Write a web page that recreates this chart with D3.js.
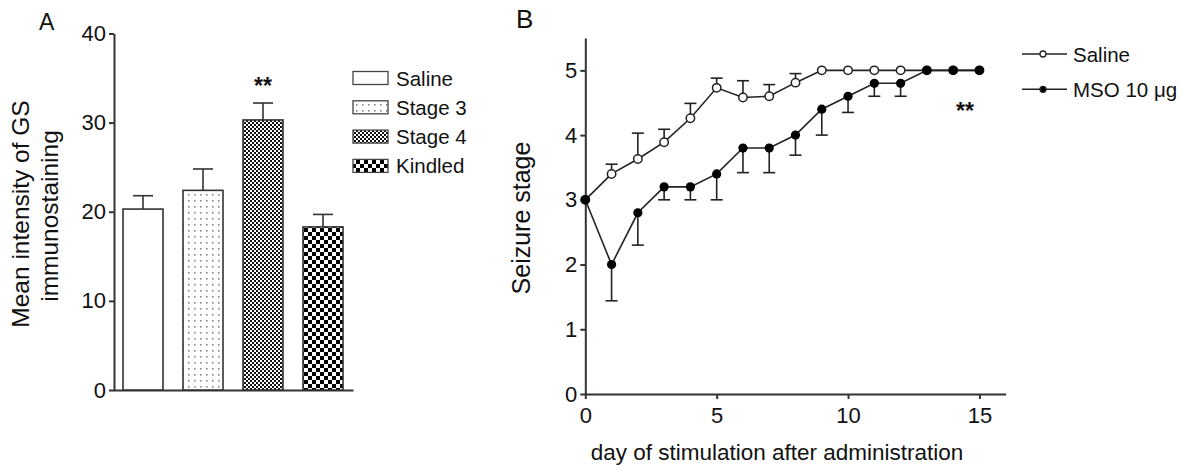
<!DOCTYPE html>
<html>
<head>
<meta charset="utf-8">
<style>
  body { margin: 0; background: #fff; }
  svg text { font-family: "Liberation Sans", Arial, sans-serif; fill: #111; }
</style>
</head>
<body>
<svg id="chart" width="1182" height="471"></svg>
<script src="https://d3js.org/d3.v7.min.js"></script>
<script>
// panel A: GS immunostaining
var groupsA = ["Saline", "Stage 3", "Stage 4", "Kindled"];
var meanA = [20.3, 22.4, 30.3, 18.3];
var semA = [1.5, 2.4, 1.9, 1.4];
var ticksA = [0, 10, 20, 30, 40];

// panel B: seizure stage per day
var days = [0, 1, 2, 3, 4, 5, 6, 7, 8, 9, 10, 11, 12, 13, 14, 15];
var salineMean = [3, 3.4, 3.63, 3.89, 4.26, 4.73, 4.58, 4.6, 4.81, 5, 5, 5, 5, 5, 5, 5];
var salineErr = [0, 0.15, 0.4, 0.2, 0.23, 0.15, 0.26, 0.18, 0.14, 0, 0, 0, 0, 0, 0, 0];
var msoMean = [3, 2.0, 2.8, 3.2, 3.2, 3.4, 3.8, 3.8, 4.0, 4.4, 4.6, 4.8, 4.8, 5, 5, 5];
var msoErr = [0, 0.56, 0.5, 0.2, 0.2, 0.4, 0.38, 0.38, 0.31, 0.4, 0.25, 0.2, 0.2, 0, 0, 0];
var ticksBx = [0, 5, 10, 15];
var ticksBy = [0, 1, 2, 3, 4, 5];
var seriesB = ["Saline", "MSO 10 \u03bcg"];

var svg = d3.select("#chart");
var ink = "#222";

// fill patterns for the bars
var defs = svg.append("defs");
var pDots = defs.append("pattern").attr("id", "dots")
  .attr("patternUnits", "userSpaceOnUse").attr("width", 6).attr("height", 6);
pDots.append("rect").attr("width", 6).attr("height", 6).attr("fill", "#fff");
pDots.append("rect").attr("x", 2).attr("y", 2).attr("width", 1.6).attr("height", 1.6).attr("fill", "#888");

var pFine = defs.append("pattern").attr("id", "fine")
  .attr("patternUnits", "userSpaceOnUse").attr("width", 4).attr("height", 4);
pFine.append("rect").attr("width", 4).attr("height", 4).attr("fill", "#fff");
pFine.append("rect").attr("x", 2).attr("y", 0).attr("width", 2).attr("height", 2).attr("fill", "#111");
pFine.append("rect").attr("x", 0).attr("y", 2).attr("width", 2).attr("height", 2).attr("fill", "#111");

var pCheck = defs.append("pattern").attr("id", "check")
  .attr("patternUnits", "userSpaceOnUse").attr("width", 8).attr("height", 8);
pCheck.append("rect").attr("width", 8).attr("height", 8).attr("fill", "#fff");
pCheck.append("rect").attr("x", 4).attr("y", 0).attr("width", 4).attr("height", 4).attr("fill", "#000");
pCheck.append("rect").attr("x", 0).attr("y", 4).attr("width", 4).attr("height", 4).attr("fill", "#000");

var fillsA = ["#fff", "url(#dots)", "url(#fine)", "url(#check)"];

// ---------- panel A ----------
var xA = d3.scaleBand().domain(groupsA).range([113, 353]).paddingInner(1 / 3).paddingOuter(1 / 6);
var yA = d3.scaleLinear().domain([0, 40]).range([390, 33.5]);

svg.append("g").attr("transform", "translate(114,0)")
  .call(d3.axisLeft(yA).tickValues(ticksA).tickSize(5).tickSizeOuter(0).tickPadding(3))
  .call(function (g) {
    g.selectAll("path,line").attr("stroke", "#333").attr("stroke-width", 2);
    g.selectAll("text").attr("font-size", 22).attr("fill", "#111");
  });

svg.append("g").attr("transform", "translate(0,390)")
  .call(d3.axisBottom(xA).tickSize(0).tickFormat(""))
  .call(function (g) {
    g.select("path").attr("stroke", "#333").attr("stroke-width", 2);
  });

svg.append("g").selectAll("rect")
  .data(groupsA)
  .join("rect")
  .attr("x", function (d) { return xA(d); })
  .attr("y", function (d, i) { return yA(meanA[i]); })
  .attr("width", xA.bandwidth())
  .attr("height", function (d, i) { return yA(0) - yA(meanA[i]); })
  .attr("fill", function (d, i) { return fillsA[i]; })
  .attr("stroke", "#333").attr("stroke-width", 1.6);

var errA = svg.append("g").attr("stroke", "#333").attr("stroke-width", 1.6);
groupsA.forEach(function (d, i) {
  var cx = xA(d) + xA.bandwidth() / 2;
  errA.append("line").attr("x1", cx).attr("x2", cx)
    .attr("y1", yA(meanA[i])).attr("y2", yA(meanA[i] + semA[i]));
  errA.append("line").attr("x1", cx - 10).attr("x2", cx + 10)
    .attr("y1", yA(meanA[i] + semA[i])).attr("y2", yA(meanA[i] + semA[i]));
});

svg.append("text").attr("x", xA("Stage 4") + xA.bandwidth() / 2).attr("y", 94)
  .attr("text-anchor", "middle").attr("font-size", 23).attr("font-weight", "bold").text("**");

svg.append("text").attr("transform", "translate(29,214) rotate(-90)")
  .attr("text-anchor", "middle").attr("font-size", 24.5).text("Mean intensity of GS");
svg.append("text").attr("transform", "translate(58,216) rotate(-90)")
  .attr("text-anchor", "middle").attr("font-size", 24.5).text("immunostaining");

svg.append("text").attr("x", 39).attr("y", 30).attr("font-size", 23).text("A");

// legend A
var legA = svg.append("g");
groupsA.forEach(function (d, i) {
  var cy = 78 + i * 29.3;
  legA.append("rect").attr("x", 353).attr("y", cy - 6.5).attr("width", 35).attr("height", 13)
    .attr("fill", fillsA[i]).attr("stroke", "#444").attr("stroke-width", 1.3);
  legA.append("text").attr("x", 396).attr("y", cy + 7.5).attr("font-size", 20.5).text(d);
});

// ---------- panel B ----------
var xB = d3.scaleLinear().domain([0, 16]).range([585.3, 1005.7]);
var yB = d3.scaleLinear().domain([0, 5.5]).range([394, 38]);

svg.append("g").attr("transform", "translate(585.3,0)")
  .call(d3.axisLeft(yB).tickValues(ticksBy).tickFormat(d3.format("d")).tickSize(5).tickSizeOuter(0).tickPadding(3))
  .call(function (g) {
    g.selectAll("path,line").attr("stroke", "#333").attr("stroke-width", 2);
    g.selectAll("text").attr("font-size", 22).attr("fill", "#111");
  });

svg.append("g").attr("transform", "translate(0,394)")
  .call(d3.axisBottom(xB).tickValues(ticksBx).tickFormat(d3.format("d")).tickSize(5).tickSizeOuter(0).tickPadding(8))
  .call(function (g) {
    g.selectAll("path,line").attr("stroke", "#333").attr("stroke-width", 2);
    g.selectAll("text").attr("font-size", 22).attr("fill", "#111");
  });

var line = d3.line()
  .x(function (d, i) { return xB(days[i]); })
  .y(function (d) { return yB(d); });

svg.append("path").datum(salineMean).attr("d", line)
  .attr("fill", "none").attr("stroke", ink).attr("stroke-width", 1.6);
svg.append("path").datum(msoMean).attr("d", line)
  .attr("fill", "none").attr("stroke", ink).attr("stroke-width", 1.6);

// error bars: saline up, MSO down
var errB = svg.append("g").attr("stroke", ink).attr("stroke-width", 1.6);
days.forEach(function (day, i) {
  var cx = xB(day);
  if (salineErr[i] > 0) {
    var top = yB(salineMean[i] + salineErr[i]);
    errB.append("line").attr("x1", cx).attr("x2", cx).attr("y1", yB(salineMean[i])).attr("y2", top);
    errB.append("line").attr("x1", cx - 6).attr("x2", cx + 6).attr("y1", top).attr("y2", top);
  }
  if (msoErr[i] > 0) {
    var bot = yB(msoMean[i] - msoErr[i]);
    errB.append("line").attr("x1", cx).attr("x2", cx).attr("y1", yB(msoMean[i])).attr("y2", bot);
    errB.append("line").attr("x1", cx - 6).attr("x2", cx + 6).attr("y1", bot).attr("y2", bot);
  }
});

svg.append("g").selectAll("circle")
  .data(salineMean)
  .join("circle")
  .attr("cx", function (d, i) { return xB(days[i]); })
  .attr("cy", function (d) { return yB(d); })
  .attr("r", 4.2)
  .attr("fill", "#fff").attr("stroke", ink).attr("stroke-width", 1.5);

svg.append("g").selectAll("circle")
  .data(msoMean)
  .join("circle")
  .attr("cx", function (d, i) { return xB(days[i]); })
  .attr("cy", function (d) { return yB(d); })
  .attr("r", 4.6)
  .attr("fill", "#000");

svg.append("text").attr("x", 965).attr("y", 119)
  .attr("text-anchor", "middle").attr("font-size", 23).attr("font-weight", "bold").text("**");

svg.append("text").attr("transform", "translate(530,218) rotate(-90)")
  .attr("text-anchor", "middle").attr("font-size", 25).text("Seizure stage");
svg.append("text").attr("x", 777).attr("y", 460)
  .attr("text-anchor", "middle").attr("font-size", 22.5).text("day of stimulation after administration");

svg.append("text").attr("x", 516).attr("y", 28).attr("font-size", 26).text("B");

// legend B
var legB = svg.append("g");
seriesB.forEach(function (d, i) {
  var cy = 54 + i * 35.3;
  legB.append("line").attr("x1", 1022).attr("x2", 1067).attr("y1", cy).attr("y2", cy)
    .attr("stroke", ink).attr("stroke-width", 1.6);
  legB.append("circle").attr("cx", 1043).attr("cy", cy).attr("r", 3)
    .attr("fill", i === 0 ? "#fff" : "#000").attr("stroke", ink).attr("stroke-width", 1.3);
  legB.append("text").attr("x", 1073).attr("y", cy + 7.5).attr("font-size", 20.5).text(d);
});
</script>
</body>
</html>
